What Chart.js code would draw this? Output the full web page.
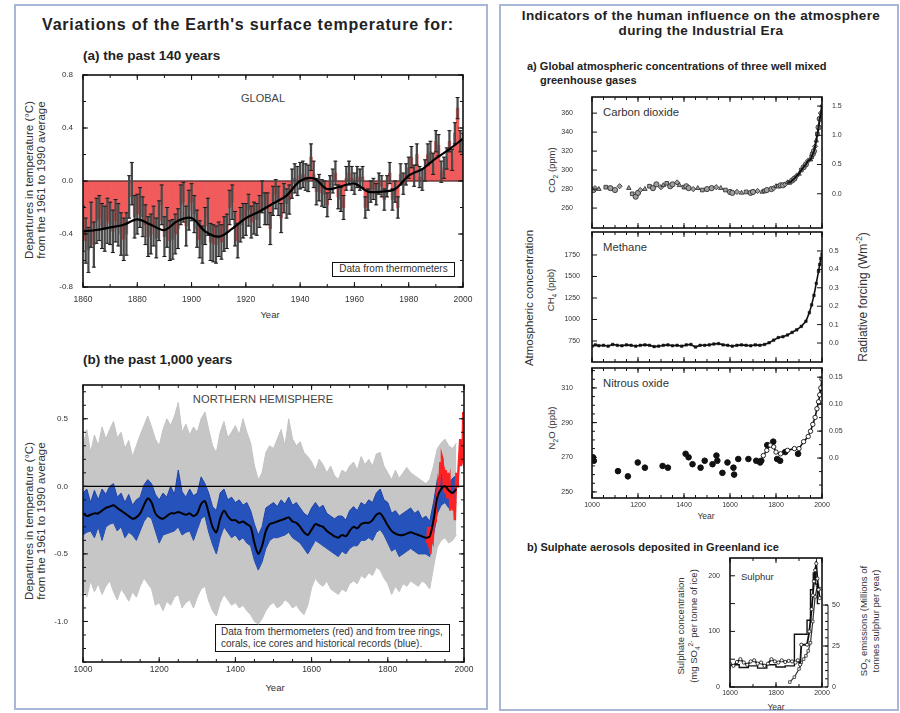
<!DOCTYPE html>
<html>
<head>
<meta charset="utf-8">
<script src="https://cdn.jsdelivr.net/npm/chart.js@4.4.1/dist/chart.umd.min.js"></script>
<style>
html,body{margin:0;padding:0;background:#fff;}
body{width:900px;height:713px;position:relative;overflow:hidden;font-family:'Liberation Sans',Arial,sans-serif;color:#222;}
.box{position:absolute;border:2px solid #a7b7d5;box-sizing:border-box;}
.t{position:absolute;white-space:nowrap;line-height:1;}
.c{transform:translate(-50%,-50%);}
.l{transform:translate(0,-50%);}
.r{transform:translate(-50%,-50%) rotate(-90deg);}
.b{font-weight:bold;}
canvas{position:absolute;}
.leg{position:absolute;border:1.5px solid #111;box-sizing:border-box;color:#333;display:flex;flex-direction:column;justify-content:center;line-height:1.25;white-space:nowrap;}
sub,sup{font-size:70%;line-height:0;}
</style>
</head>
<body>
<div class="box" style="left:14px;top:4px;width:474px;height:706px"></div>
<div class="box" style="left:499px;top:4px;width:400px;height:707px"></div>

<!-- left panel text -->
<div class="t c b" style="left:248px;top:25px;font-size:16px;letter-spacing:0.8px">Variations of the Earth's surface temperature for:</div>
<div class="t l b" style="left:83px;top:56px;font-size:13.5px">(a) the past 140 years</div>
<div class="t r" style="left:30px;top:180px;font-size:11.5px;color:#333">Departures in temperature (°C)</div>
<div class="t r" style="left:42px;top:180px;font-size:11.5px;color:#333">from the 1961 to 1990 average</div>
<div class="t c" style="left:263px;top:98px;font-size:11px;color:#444">GLOBAL</div>
<div class="leg" style="left:332px;top:262px;width:123px;height:15px;font-size:10px;align-items:center">Data from thermometers</div>
<div class="t c" style="left:270px;top:315px;font-size:9.5px;color:#333">Year</div>

<div class="t l b" style="left:83px;top:360px;font-size:13.5px">(b) the past 1,000 years</div>
<div class="t r" style="left:30px;top:521px;font-size:11.5px;color:#333">Departures in temperature (°C)</div>
<div class="t r" style="left:42px;top:521px;font-size:11.5px;color:#333">from the 1961 to 1990 average</div>
<div class="t c" style="left:263px;top:400px;font-size:11.2px;color:#444">NORTHERN HEMISPHERE</div>
<div class="leg" style="left:215px;top:624px;width:235px;height:28px;font-size:10px;padding-left:5px">Data from thermometers (red) and from tree rings,<br>corals, ice cores and historical records (blue).</div>
<div class="t c" style="left:275px;top:688px;font-size:9.5px;color:#333">Year</div>

<!-- right panel text -->
<div class="t c b" style="left:701px;top:16px;font-size:13.5px;letter-spacing:0.35px">Indicators of the human influence on the atmosphere</div>
<div class="t c b" style="left:701px;top:31px;font-size:13.5px;letter-spacing:0.35px">during the Industrial Era</div>
<div class="t l b" style="left:527px;top:66px;font-size:11px">a) Global atmospheric concentrations of three well mixed</div>
<div class="t l b" style="left:540px;top:80px;font-size:11px">greenhouse gases</div>
<div class="t l" style="left:603px;top:113px;font-size:11.3px;color:#333">Carbon dioxide</div>
<div class="t l" style="left:603px;top:248px;font-size:11.3px;color:#333">Methane</div>
<div class="t l" style="left:603px;top:384px;font-size:11.3px;color:#333">Nitrous oxide</div>
<div class="t r" style="left:552px;top:170px;font-size:9.5px;color:#333">CO<sub>2</sub> (ppm)</div>
<div class="t r" style="left:551px;top:290px;font-size:9.5px;color:#333">CH<sub>4</sub> (ppb)</div>
<div class="t r" style="left:552px;top:428px;font-size:9.5px;color:#333">N<sub>2</sub>O (ppb)</div>
<div class="t r" style="left:530px;top:298px;font-size:11.5px;color:#333">Atmospheric concentration</div>
<div class="t r" style="left:863px;top:297px;font-size:12px;color:#333">Radiative forcing (Wm<sup>-2</sup>)</div>
<div class="t c" style="left:706px;top:516px;font-size:8.5px;color:#333">Year</div>
<div class="t l b" style="left:527px;top:547px;font-size:11px">b) Sulphate aerosols deposited in Greenland ice</div>
<div class="t l" style="left:741px;top:577px;font-size:9.5px;color:#333">Sulphur</div>
<div class="t r" style="left:681px;top:626px;font-size:9.5px;color:#333">Sulphate concentration</div>
<div class="t r" style="left:694px;top:626px;font-size:9.5px;color:#333">(mg SO<sub>4</sub><sup>2-</sup> per tonne of ice)</div>
<div class="t r" style="left:864px;top:621px;font-size:9.5px;color:#333">SO<sub>2</sub> emissions (Millions of</div>
<div class="t r" style="left:876px;top:621px;font-size:9.5px;color:#333">tonnes sulphur per year)</div>
<div class="t c" style="left:776px;top:707px;font-size:8.5px;color:#333">Year</div>

<canvas id="cA" width="438" height="250" style="left:40px;top:65px"></canvas>
<canvas id="cB" width="439" height="300" style="left:40px;top:375px"></canvas>
<canvas id="cC" width="320" height="146" style="left:550px;top:87px"></canvas>
<canvas id="cD" width="320" height="145" style="left:550px;top:222px"></canvas>
<canvas id="cE" width="320" height="160" style="left:550px;top:358px"></canvas>
<canvas id="cF" width="180" height="158" style="left:690px;top:548px"></canvas>

<script>
// ---------------- DATA ----------------
// (a) global temperature anomalies, 1860-2000 (deg C vs 1961-90)
const tempStart = 1860;
const tempAnom = [
-0.36,-0.45,-0.52,-0.33,-0.48,-0.30,-0.28,-0.34,-0.36,-0.30,
-0.32,-0.38,-0.30,-0.33,-0.40,-0.44,-0.40,-0.12,-0.02,-0.27,
-0.25,-0.20,-0.27,-0.33,-0.42,-0.40,-0.34,-0.43,-0.30,-0.18,
-0.42,-0.35,-0.45,-0.44,-0.40,-0.36,-0.18,-0.16,-0.34,-0.22,
-0.16,-0.25,-0.36,-0.44,-0.48,-0.34,-0.27,-0.46,-0.47,-0.48,
-0.44,-0.46,-0.40,-0.38,-0.20,-0.16,-0.36,-0.45,-0.33,-0.30,
-0.29,-0.22,-0.31,-0.28,-0.29,-0.23,-0.12,-0.21,-0.21,-0.36,
-0.15,-0.10,-0.15,-0.28,-0.13,-0.17,-0.14,-0.02,0.02,0.00,
0.04,0.05,0.03,0.02,0.18,0.05,-0.08,-0.05,-0.09,-0.10,
-0.18,-0.05,0.00,0.06,-0.12,-0.14,-0.20,0.02,0.06,0.02,
-0.02,0.03,0.01,0.03,-0.20,-0.14,-0.08,-0.06,-0.10,-0.02,
-0.04,-0.14,-0.04,0.06,-0.14,-0.08,-0.20,0.05,-0.02,0.05,
0.10,0.18,0.04,0.20,0.03,0.01,0.08,0.20,0.22,0.13,
0.30,0.27,0.07,0.10,0.17,0.30,0.16,0.36,0.55,0.30,
0.28];
// uncertainty half-width for each decade (1860s ... 2000)
const tempErrDecade = [0.17,0.16,0.15,0.15,0.14,0.13,0.12,0.11,0.10,0.09,0.08,0.08,0.08,0.08,0.08];
const tempSmoothYears = [1860,1865,1870,1875,1880,1885,1890,1895,1900,1905,1910,1915,1920,1925,1930,1935,1940,1945,1950,1955,1960,1965,1970,1975,1980,1985,1990,1995,2000];
const tempSmooth = [-0.38,-0.37,-0.35,-0.33,-0.29,-0.33,-0.37,-0.30,-0.28,-0.38,-0.42,-0.36,-0.28,-0.23,-0.17,-0.11,0.00,0.02,-0.06,-0.04,-0.02,-0.08,-0.08,-0.06,0.04,0.09,0.17,0.24,0.32];
const tempZero = 0;
const tempXTicks = [1860,1880,1900,1920,1940,1960,1980,2000];
const tempYTicks = [-0.8,-0.4,0,0.4,0.8];

// (b) Northern Hemisphere reconstruction, 1000-1980 every 10 years
const nhStart = 1000, nhStep = 10;
const nhSmooth = [
-0.20,-0.22,-0.21,-0.20,-0.20,-0.18,-0.16,-0.15,-0.14,-0.16,
-0.18,-0.20,-0.22,-0.24,-0.23,-0.20,-0.14,-0.09,-0.12,-0.20,
-0.23,-0.24,-0.22,-0.20,-0.20,-0.19,-0.20,-0.21,-0.20,-0.22,
-0.20,-0.13,-0.11,-0.20,-0.30,-0.34,-0.24,-0.18,-0.22,-0.25,
-0.25,-0.27,-0.26,-0.28,-0.30,-0.42,-0.50,-0.44,-0.33,-0.28,
-0.27,-0.26,-0.25,-0.24,-0.23,-0.26,-0.27,-0.30,-0.34,-0.36,
-0.32,-0.28,-0.29,-0.30,-0.33,-0.35,-0.37,-0.38,-0.36,-0.37,
-0.33,-0.30,-0.31,-0.28,-0.27,-0.27,-0.25,-0.21,-0.20,-0.24,
-0.29,-0.33,-0.35,-0.36,-0.36,-0.35,-0.34,-0.35,-0.36,-0.37,
-0.38,-0.37,-0.25,-0.08,-0.02,0.00,-0.03,-0.05,-0.02];
const blueHi = [
-0.05,-0.02,-0.12,-0.03,-0.10,-0.02,-0.06,0.00,0.02,-0.08,
-0.05,-0.12,-0.06,-0.14,-0.10,-0.08,0.01,0.05,0.02,-0.06,
-0.10,-0.05,-0.08,0.00,-0.06,0.12,-0.04,-0.08,-0.02,-0.07,
-0.05,0.07,0.02,-0.05,-0.15,-0.18,-0.05,-0.02,-0.10,-0.08,
-0.12,-0.10,-0.14,-0.12,-0.18,-0.28,-0.36,-0.30,-0.16,-0.14,
-0.12,-0.15,-0.10,-0.13,-0.08,-0.14,-0.12,-0.16,-0.20,-0.22,
-0.16,-0.12,-0.16,-0.14,-0.20,-0.22,-0.24,-0.22,-0.22,-0.25,
-0.18,-0.15,-0.18,-0.12,-0.14,-0.10,-0.12,-0.05,-0.02,-0.10,
-0.12,-0.20,-0.18,-0.22,-0.20,-0.18,-0.16,-0.20,-0.18,-0.24,
-0.22,-0.26,-0.12,0.05,0.10,0.08,0.02,0.06,0.08];
const blueLo = [
-0.36,-0.34,-0.33,-0.38,-0.30,-0.40,-0.30,-0.28,-0.27,-0.33,
-0.30,-0.38,-0.34,-0.36,-0.40,-0.33,-0.26,-0.22,-0.24,-0.33,
-0.42,-0.36,-0.35,-0.34,-0.33,-0.30,-0.36,-0.34,-0.33,-0.40,
-0.32,-0.24,-0.22,-0.34,-0.43,-0.50,-0.38,-0.30,-0.34,-0.38,
-0.36,-0.40,-0.38,-0.42,-0.44,-0.55,-0.62,-0.56,-0.46,-0.40,
-0.38,-0.38,-0.37,-0.36,-0.34,-0.38,-0.40,-0.42,-0.46,-0.50,
-0.45,-0.40,-0.42,-0.44,-0.46,-0.48,-0.50,-0.52,-0.48,-0.50,
-0.46,-0.44,-0.44,-0.40,-0.40,-0.38,-0.40,-0.34,-0.32,-0.36,
-0.42,-0.48,-0.46,-0.52,-0.50,-0.48,-0.46,-0.48,-0.50,-0.50,
-0.50,-0.52,-0.36,-0.20,-0.14,-0.12,-0.16,-0.16,-0.12];
const greyHi = [
0.30,0.42,0.25,0.38,0.30,0.44,0.35,0.42,0.48,0.36,
0.40,0.28,0.34,0.22,0.30,0.38,0.45,0.52,0.44,0.35,
0.30,0.42,0.50,0.45,0.52,0.62,0.40,0.46,0.38,0.44,
0.40,0.50,0.55,0.42,0.30,0.25,0.40,0.48,0.36,0.40,
0.45,0.38,0.50,0.40,0.32,0.15,0.05,0.10,0.25,0.30,
0.28,0.35,0.42,0.30,0.50,0.35,0.30,0.33,0.25,0.22,
0.18,0.12,0.20,0.16,0.10,0.15,0.08,0.05,0.12,0.10,
0.15,0.18,0.12,0.22,0.16,0.20,0.15,0.24,0.25,0.15,
0.10,0.05,0.12,0.06,0.10,0.14,0.10,0.08,0.06,0.04,
0.02,0.05,0.15,0.28,0.32,0.35,0.30,0.28,0.32];
const greyLo = [
-0.75,-0.82,-0.70,-0.78,-0.72,-0.80,-0.74,-0.70,-0.78,-0.84,
-0.76,-0.80,-0.85,-0.78,-0.82,-0.74,-0.68,-0.72,-0.76,-0.88,
-0.86,-0.92,-0.85,-0.88,-0.82,-0.80,-0.90,-0.86,-0.84,-0.90,
-0.82,-0.76,-0.74,-0.85,-0.92,-0.96,-0.86,-0.80,-0.84,-0.88,
-0.86,-0.90,-0.88,-0.92,-0.95,-1.00,-1.02,-0.98,-0.92,-0.88,
-0.86,-0.90,-0.88,-0.84,-0.86,-0.90,-0.88,-0.92,-0.95,-0.88,
-0.75,-0.68,-0.72,-0.74,-0.70,-0.76,-0.78,-0.80,-0.76,-0.78,
-0.72,-0.70,-0.72,-0.66,-0.68,-0.64,-0.66,-0.60,-0.62,-0.68,
-0.72,-0.80,-0.74,-0.78,-0.72,-0.74,-0.70,-0.72,-0.74,-0.70,
-0.72,-0.76,-0.60,-0.45,-0.40,-0.38,-0.42,-0.40,-0.36];
const redYears = [1902,1904,1906,1908,1910,1912,1914,1916,1918,1920,
1922,1924,1926,1928,1930,1932,1934,1936,1938,1940,
1942,1944,1946,1948,1950,1952,1954,1956,1958,1960,
1962,1964,1966,1968,1970,1972,1974,1976,1978,1980,
1982,1984,1986,1988,1990,1992,1994,1996,1998];
const redVals = [-0.42,-0.40,-0.30,-0.45,-0.42,-0.50,-0.30,-0.38,-0.40,-0.28,
-0.24,-0.26,-0.10,-0.15,-0.05,0.02,-0.02,0.05,0.18,0.10,
0.22,0.20,0.05,0.08,-0.05,0.12,0.00,-0.08,0.10,0.02,
0.05,-0.18,-0.08,-0.12,-0.04,-0.18,-0.14,-0.25,-0.05,0.10,
0.00,0.05,0.15,0.25,0.35,0.15,0.25,0.22,0.55];
const nhZero = 0;
const nhXTicks = [1000,1200,1400,1600,1800,2000];
const nhYTicks = [-1.0,-0.5,0,0.5];

// right (a) greenhouse gases
const co2Years = [
1006,1013,1030,1060,1080,1100,1120,1160,1175,1190,
1200,1210,1230,1250,1265,1280,1300,1310,1325,1340,
1350,1370,1380,1400,1410,1420,1440,1460,1480,1500,
1520,1540,1560,1580,1600,1610,1630,1650,1670,1690,
1700,1720,1740,1750,1760,1780,1790,1800,1810,1820,
1830,1840,1850,1860,1870,1880,1890,1900,1910,1920,
1930,1940,1950,1955,1960,1965,1970,1975,1980,1985,
1990,1995,2000];
const co2Vals = [
279,281,280,282,281,279,283,281,275,272,
276,279,280,283,281,285,282,284,286,283,
285,287,284,282,283,281,280,281,279,280,
281,282,281,279,277,276,277,276,277,276,
277,278,277,278,279,280,281,283,283,284,
284,285,287,287,289,291,294,296,300,303,
306,310,311,314,317,320,325,331,338,345,
354,360,368];
const ch4Years = [1000,1015,1030,1050,1070,1090,1110,1130,1150,1170,1190,1210,1230,1250,1270,1290,1310,1330,1350,1370,1390,1410,1430,1450,1470,1490,1510,1530,1550,1570,1590,1610,1630,1650,1670,1690,1710,1730,1750,1770,1790,1810,1830,1850,1870,1890,1910,1930,1945,1955,1965,1975,1985,1990,1995,2000];
const ch4Vals = [690,705,695,700,690,710,700,695,705,700,690,700,705,700,685,690,700,705,695,700,690,705,710,680,700,700,705,715,720,705,700,690,700,705,700,695,705,700,710,730,760,790,800,820,850,880,920,980,1080,1170,1280,1420,1560,1640,1710,1760];
const n2oIceYears = [1000,1004,1008,1113,1156,1199,1230,1307,1330,1407,1420,1437,1472,1490,1524,1541,1545,1567,1589,1615,1618,1636,1680,1714,1731,1736,1762,1788,1805,1818,1840,1896];
const n2oIceVals = [269,270,268,262,259,267,264,265,264,272,270,266,264,268,266,271,268,261,267,264,260,269,269,268,267,268,277,279,269,268,273,272];
const n2oLineYears = [1745,1760,1775,1790,1800,1820,1850,1880,1900,1920,1940,1950,1960,1970,1978,1985,1990,1995,2000];
const n2oLineVals = [271,274,277,276,273,272,274,275,275,279,282,285,289,293,298,302,306,310,315];
const ghgXTicks = [1000,1200,1400,1600,1800,2000];
const co2Ticks = [260,280,300,320,340,360];
const co2RfTicks = [0,0.5,1.0,1.5];
const ch4Ticks = [750,1000,1250,1500,1750];
const ch4RfTicks = [0,0.1,0.2,0.3,0.4,0.5];
const n2oTicks = [250,270,290,310];
const n2oRfTicks = [0,0.05,0.10,0.15];

// right (b) sulphate
const sulAYears = [1600,1615,1630,1645,1660,1675,1690,1705,1720,1735,1750,1765,1780,1795,1810,1825,1840,1855,1870,1885,1895,1905,1910,1935,1945,1955,1960,1965,1970,1975,1980,1985,1990];
const sulAVals = [42,38,45,50,44,40,46,48,42,44,38,42,50,46,44,48,45,47,46,44,48,40,76,76,100,140,165,190,210,222,195,175,160];
const sulBYears = [1600,1640,1680,1720,1760,1800,1840,1880,1910,1935,1950,1962,1972,1980,1990];
const sulBVals = [32,40,35,38,34,40,36,38,95,95,120,175,205,185,150];
const emiYears = [1860,1880,1900,1910,1920,1930,1940,1950,1960,1970,1980,1990];
const emiVals = [3,6,11,15,17,19,22,27,40,55,62,60];
const sulXTicks = [1600,1800,2000];
const sulTicks = [0,50,100,150,200];
const emiTicks = [0,5,10,15,20,25,30,35,40,45,50];

// ---------------- HELPERS ----------------
const pts = (xs, ys) => xs.map((x, i) => ({x: x, y: ys[i]}));
const fixed1 = v => Number(v).toFixed(1);
const fixed2 = v => (v === 0 ? '0.0' : Number(v).toFixed(2));

function axis(o) {
  return {
    type: 'linear', position: o.pos, min: o.min, max: o.max, offset: false,
    display: o.display !== false,
    grid: {display: false, drawTicks: false}, border: {display: false},
    ticks: {padding: o.pad || 4, font: {size: o.fs || 8}, color: '#333', autoSkip: false, maxRotation: 0,
            callback: o.fmt || (v => String(v))},
    afterBuildTicks: s => { s.ticks = o.ticks.map(v => ({value: v})); },
    afterFit: s => {
      if (o.pos === 'left' || o.pos === 'right') s.width = o.size; else s.height = o.size;
      s.paddingTop = 0; s.paddingBottom = 0; s.paddingLeft = 0; s.paddingRight = 0;
    }
  };
}

const frameCfg = {
  cA: {x: tempXTicks, xMinor: 10, y: tempYTicks, yMinor: 0.2, yMirror: true},
  cB: {x: nhXTicks, xMinor: 50, y: nhYTicks, yMinor: 0.1, yMirror: true},
  cC: {x: ghgXTicks, xMinor: 50, y: co2Ticks, y2: co2RfTicks},
  cD: {x: ghgXTicks, xMinor: 50, y: ch4Ticks, y2: ch4RfTicks},
  cE: {x: ghgXTicks, xMinor: 50, y: n2oTicks, yMinor: 5, y2: n2oRfTicks, y2Minor: 0.025},
  cF: {x: sulXTicks, xMinor: 100, y: sulTicks, y2: emiTicks, y2Major: [0,25,50], y2Off: 6, y2Top: 50}
};

const framePlugin = {
  id: 'frame',
  afterDatasetsDraw(chart) {
    const o = frameCfg[chart.canvas.id];
    if (!o) return;
    const ctx = chart.ctx, a = chart.chartArea, sx = chart.scales.x, sy = chart.scales.y, sy2 = chart.scales.y2;
    const seg = (x1, y1, x2, y2) => { ctx.beginPath(); ctx.moveTo(x1, y1); ctx.lineTo(x2, y2); ctx.stroke(); };
    const mult = (s, st) => { const r = []; if (!st) return r; for (let k = Math.ceil(s.min / st - 1e-6); k * st <= s.max + 1e-9; k++) r.push(k * st); return r; };
    ctx.save();
    ctx.strokeStyle = '#111';
    ctx.lineWidth = 1.6;
    ctx.strokeRect(a.left, a.top, a.right - a.left, a.bottom - a.top);
    ctx.lineWidth = 1;
    const xt = (vals, len) => vals.forEach(v => { const p = sx.getPixelForValue(v); seg(p, a.bottom, p, a.bottom - len); seg(p, a.top, p, a.top + len); });
    xt(o.x, 5); xt(mult(sx, o.xMinor), 3);
    const yt = (vals, len) => vals.forEach(v => { const p = sy.getPixelForValue(v); seg(a.left, p, a.left + len, p); if (o.yMirror) seg(a.right, p, a.right - len, p); });
    yt(o.y, 5); yt(mult(sy, o.yMinor), 3);
    if (o.y2 && sy2) {
      const xr = a.right + (o.y2Off || 0);
      if (o.y2Off) seg(xr, sy2.getPixelForValue(0), xr, sy2.getPixelForValue(o.y2Top));
      const y2t = (vals, len) => vals.forEach(v => { const p = sy2.getPixelForValue(v); seg(xr, p, xr - len, p); });
      if (o.y2Off) { y2t(o.y2, 3); y2t(o.y2Major, 5); }
      else { y2t(o.y2, 5); y2t(mult(sy2, o.y2Minor), 3); }
    }
    ctx.restore();
  }
};

Chart.defaults.animation = false;
Chart.defaults.font.family = "'Liberation Sans', Arial, sans-serif";
Chart.defaults.font.size = 8;
Chart.defaults.color = '#333';
Chart.defaults.plugins.legend.display = false;
Chart.defaults.plugins.tooltip.enabled = false;
Chart.defaults.layout.autoPadding = false;
Chart.register(framePlugin);

// ---------------- CHART (a) left ----------------
const tempYears = tempAnom.map((_, i) => tempStart + i);
const barData = pts(tempYears, tempAnom);
const errData = tempAnom.map((v, i) => { const e = tempErrDecade[Math.floor(i / 10)]; return {x: tempYears[i], y: [v - e, v + e]}; });
const capData = errData.flatMap(d => [{x: d.x, y: d.y[0]}, {x: d.x, y: d.y[1]}]);

new Chart(document.getElementById('cA'), {
  type: 'bar',
  data: {datasets: [
    {type: 'line', data: pts(tempSmoothYears, tempSmooth), borderColor: '#000', borderWidth: 2.2, pointRadius: 0, tension: 0.35, order: 0},
    {type: 'line', data: capData, showLine: false, pointStyle: 'line', pointRadius: 2, borderColor: '#1a1a1a', borderWidth: 1, order: 1},
    {type: 'bar', data: errData, backgroundColor: '#4a4a4a', barThickness: 1.6, grouped: false, order: 2},
    {type: 'line', data: [{x: 1860, y: tempZero}, {x: 2000, y: tempZero}], borderColor: '#222', borderWidth: 1, pointRadius: 0, order: 2.5},
    {type: 'bar', data: barData, backgroundColor: '#f15b5b', barPercentage: 1, categoryPercentage: 1, grouped: false, order: 3}
  ]},
  options: {
    responsive: false,
    layout: {padding: {top: 10, right: 15, left: 0, bottom: 0}},
    scales: {
      x: axis({pos: 'bottom', min: 1860, max: 2000, ticks: tempXTicks, size: 28, pad: 8, fs: 8.5}),
      y: axis({pos: 'left', min: -0.8, max: 0.8, ticks: tempYTicks, size: 43, pad: 10, fs: 8, fmt: fixed1})
    }
  }
});

// ---------------- CHART (b) left ----------------
const nhYears = nhSmooth.map((_, i) => nhStart + i * nhStep);
new Chart(document.getElementById('cB'), {
  type: 'line',
  data: {datasets: [
    {data: pts(nhYears, nhSmooth), borderColor: '#000', borderWidth: 2, pointRadius: 0, tension: 0.3, order: 0},
    {data: [{x: 1000, y: nhZero}, {x: 2000, y: nhZero}], borderColor: '#000', borderWidth: 1.2, pointRadius: 0, order: 1},
    {data: pts(redYears, redVals), borderColor: '#ff2222', borderWidth: 2.4, pointRadius: 0, order: 2},
    {data: pts(nhYears, blueHi), borderColor: '#1d43a6', backgroundColor: '#2652bb', borderWidth: 1, pointRadius: 0, fill: '+1', order: 3},
    {data: pts(nhYears, blueLo), borderColor: '#1d43a6', borderWidth: 1, pointRadius: 0, fill: false, order: 3},
    {data: pts(nhYears, greyHi), borderColor: '#c2c2c2', backgroundColor: '#c6c6c6', borderWidth: 1, pointRadius: 0, fill: '+1', order: 4},
    {data: pts(nhYears, greyLo), borderColor: '#c2c2c2', borderWidth: 1, pointRadius: 0, fill: false, order: 4}
  ]},
  options: {
    responsive: false,
    layout: {padding: {top: 10, right: 15, left: 0, bottom: 0}},
    scales: {
      x: axis({pos: 'bottom', min: 1000, max: 2000, ticks: nhXTicks, size: 13, pad: 3, fs: 8.5}),
      y: axis({pos: 'left', min: -1.3, max: 0.75, ticks: nhYTicks, size: 43, pad: 15, fs: 8, fmt: fixed1})
    }
  }
});

// ---------------- CO2 ----------------
const co2Styles = ['circle', 'rectRot', 'triangle', 'rect', 'circle'];
new Chart(document.getElementById('cC'), {
  type: 'line',
  data: {datasets: [
    {data: pts(co2Years, co2Vals).filter(p => p.x >= 1850), borderColor: '#111', borderWidth: 2, pointRadius: 0, order: 0},
    {data: pts(co2Years, co2Vals), showLine: false, pointStyle: co2Years.map((_, i) => co2Styles[i % co2Styles.length]),
     pointRadius: 2.6, backgroundColor: '#a0a0a0', borderColor: '#222', borderWidth: 0.8, order: 1}
  ]},
  options: {
    responsive: false,
    layout: {padding: {top: 10, right: 0, left: 0, bottom: 5}},
    scales: {
      x: axis({pos: 'bottom', min: 1000, max: 2000, ticks: ghgXTicks, size: 0, display: false}),
      y: axis({pos: 'left', min: 239, max: 377, ticks: co2Ticks, size: 42, pad: 19, fs: 7}),
      y2: axis({pos: 'right', min: -0.586, max: 1.655, ticks: co2RfTicks, size: 48, pad: 10, fs: 7, fmt: fixed1})
    }
  }
});

// ---------------- CH4 ----------------
new Chart(document.getElementById('cD'), {
  type: 'line',
  data: {datasets: [
    {data: pts(ch4Years, ch4Vals), borderColor: '#111', borderWidth: 1.6, pointStyle: 'rect', pointRadius: 1.8, backgroundColor: '#111', pointBorderWidth: 0.5}
  ]},
  options: {
    responsive: false,
    layout: {padding: {top: 10, right: 0, left: 0, bottom: 5}},
    scales: {
      x: axis({pos: 'bottom', min: 1000, max: 2000, ticks: ghgXTicks, size: 0, display: false}),
      y: axis({pos: 'left', min: 506, max: 2017, ticks: ch4Ticks, size: 42, pad: 12, fs: 7}),
      y2: axis({pos: 'right', min: -0.103, max: 0.603, ticks: ch4RfTicks, size: 48, pad: 7, fs: 7, fmt: fixed1})
    }
  }
});

// ---------------- N2O ----------------
new Chart(document.getElementById('cE'), {
  type: 'line',
  data: {datasets: [
    {data: pts(n2oLineYears, n2oLineVals), borderColor: '#111', borderWidth: 1.6, pointRadius: 2.2, pointStyle: 'circle', backgroundColor: '#fff', pointBorderWidth: 0.9, order: 0},
    {data: pts(n2oIceYears, n2oIceVals), showLine: false, pointRadius: 2.8, backgroundColor: '#111', borderColor: '#111', order: 1}
  ]},
  options: {
    responsive: false,
    layout: {padding: {top: 10, right: 0, left: 0, bottom: 0}},
    scales: {
      x: axis({pos: 'bottom', min: 1000, max: 2000, ticks: ghgXTicks, size: 20, pad: 3, fs: 7}),
      y: axis({pos: 'left', min: 246.5, max: 321.5, ticks: n2oTicks, size: 42, pad: 19, fs: 7}),
      y2: axis({pos: 'right', min: -0.074, max: 0.167, ticks: n2oRfTicks, size: 48, pad: 7, fs: 7, fmt: fixed2})
    }
  }
});

// ---------------- Sulphur ----------------
new Chart(document.getElementById('cF'), {
  type: 'line',
  data: {datasets: [
    {data: pts(sulAYears, sulAVals), borderColor: '#111', borderWidth: 1.8, pointRadius: 1.6, backgroundColor: '#fff', pointBorderWidth: 0.8, order: 0},
    {data: pts(sulBYears, sulBVals), borderColor: '#111', borderWidth: 1.4, pointRadius: 0, stepped: 'after', order: 1},
    {data: pts(emiYears, emiVals), yAxisID: 'y2', borderColor: '#333', borderWidth: 1.2, pointRadius: 1.8, pointStyle: 'rect', backgroundColor: '#fff', pointBorderWidth: 0.8, order: 2}
  ]},
  options: {
    responsive: false,
    layout: {padding: {top: 10, right: 0, left: 0, bottom: 0}},
    scales: {
      x: axis({pos: 'bottom', min: 1600, max: 2000, ticks: sulXTicks, size: 19, pad: 2, fs: 7}),
      y: axis({pos: 'left', min: 0, max: 232, ticks: sulTicks, size: 40, pad: 10, fs: 7, fmt: v => (v % 100 === 0 ? String(v) : '')}),
      y2: axis({pos: 'right', min: 0, max: 78.7, ticks: emiTicks, size: 48, pad: 10, fs: 7, fmt: v => (v % 25 === 0 ? String(v) : '')})
    }
  }
});
</script>
</body>
</html>
